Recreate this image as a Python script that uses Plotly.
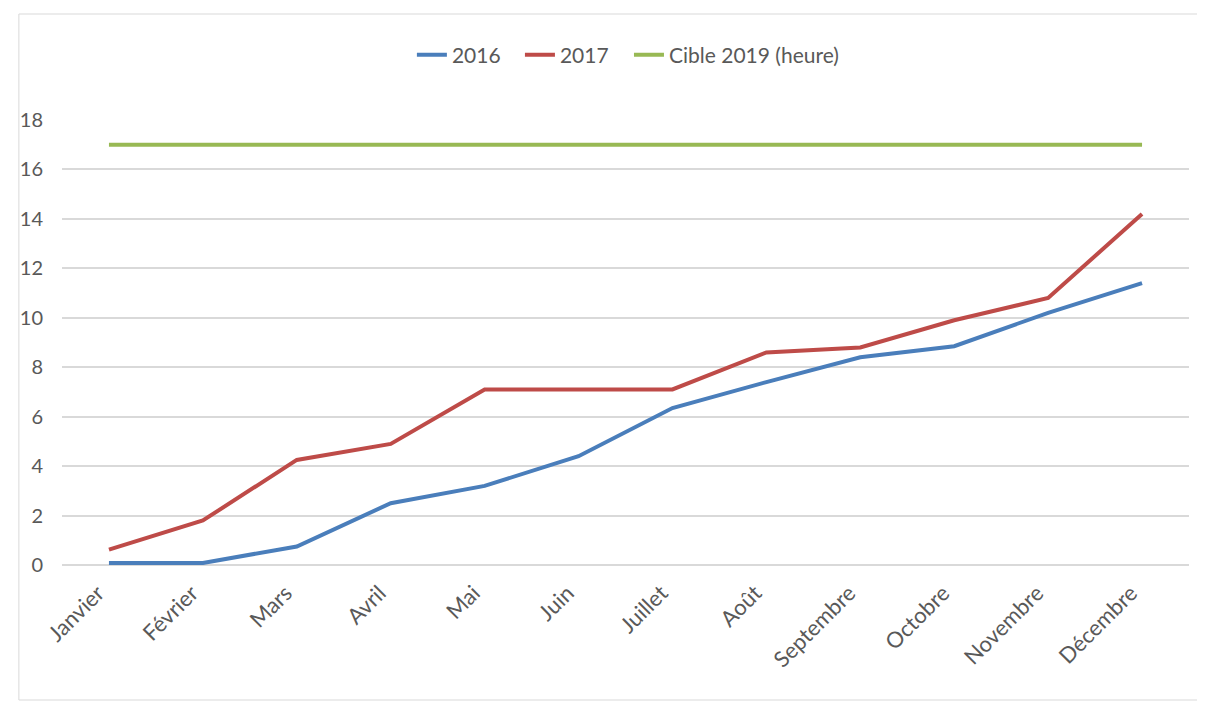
import plotly.graph_objects as go

months = ["Janvier", "Février", "Mars", "Avril", "Mai", "Juin", "Juillet",
          "Août", "Septembre", "Octobre", "Novembre", "Décembre"]
values_2016 = [0.08, 0.08, 0.75, 2.5, 3.2, 4.4, 6.35, 7.4, 8.4, 8.85, 10.2, 11.4]
values_2017 = [0.62, 1.8, 4.25, 4.9, 7.1, 7.1, 7.1, 8.6, 8.8, 9.9, 10.8, 14.2]
target_2019 = [17] * 12
y_ticks = [0, 2, 4, 6, 8, 10, 12, 14, 16, 18]

FONT = "Lato"
GREY = "#595959"

fig = go.Figure()
fig.add_trace(go.Scatter(x=months, y=values_2016, mode="lines", name="2016",
                         legend="legend", line=dict(color="#4A7EBB", width=4)))
fig.add_trace(go.Scatter(x=months, y=values_2017, mode="lines", name="2017",
                         legend="legend2", line=dict(color="#BE4B48", width=4)))
fig.add_trace(go.Scatter(x=months, y=target_2019, mode="lines", name="Cible 2019 (heure)",
                         legend="legend3", line=dict(color="#98B954", width=4)))

# page body has an 8px margin: work in reference pixels minus 8
OFF = 8
W, H = 1205 - OFF, 705 - OFF
L = 52 - OFF
R = W - (1189 - OFF)
T = 120 - OFF
B = H - (565 - OFF)
pw = W - L - R
ph = H - T - B

def px_x(p):
    return (p - OFF - L) / pw

def px_y(p):
    return (H - B - (p - OFF)) / ph

fig.add_shape(type="rect", xref="paper", yref="paper",
              x0=px_x(8.5), x1=px_x(1200), y0=px_y(700), y1=px_y(14),
              line=dict(color="#d9d9d9", width=1), fillcolor="rgba(0,0,0,0)",
              layer="below")

def leg(xpx):
    return dict(orientation="h", x=px_x(xpx), y=px_y(55), xanchor="left",
                yanchor="middle", font=dict(size=21, color=GREY, family=FONT),
                itemwidth=30, bgcolor="rgba(0,0,0,0)")

fig.update_layout(
    width=W, height=H,
    margin=dict(l=L, r=R, t=T, b=B),
    paper_bgcolor="white", plot_bgcolor="white",
    font=dict(family=FONT, color=GREY, size=21),
    showlegend=True,
    legend=leg(405),
    legend2=leg(514),
    legend3=leg(624),
    xaxis=dict(type="category", range=[-0.5, 11.5], tickangle=-45,
               showgrid=False, showline=False, ticks="", zeroline=False,
               ticklabelstandoff=10, ticklabelshift=-11,
               tickfont=dict(size=22, color=GREY)),
    yaxis=dict(range=[0, 18], tickvals=y_ticks, showgrid=True,
               gridcolor="#d9d9d9", gridwidth=1.5, zeroline=True,
               zerolinecolor="#d9d9d9", zerolinewidth=1.5, showline=False,
               ticks="outside", ticklen=14, tickcolor="rgba(0,0,0,0)",
               tickfont=dict(size=20, color=GREY)),
)

fig.write_html("out.html")
